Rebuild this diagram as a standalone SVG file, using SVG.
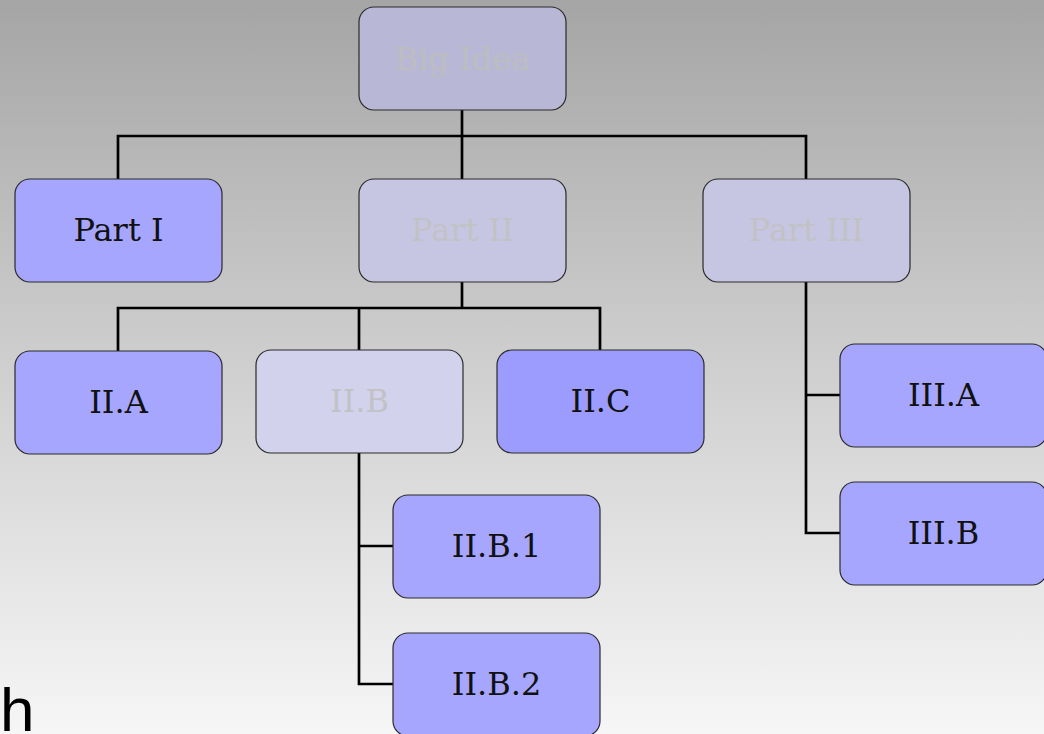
<svg xmlns="http://www.w3.org/2000/svg" width="1044" height="734" viewBox="0 0 1044 734">
  <defs>
    <linearGradient id="bg" x1="0" y1="0" x2="0" y2="1">
      <stop offset="0" stop-color="#a5a5a5"/>
      <stop offset="0.45" stop-color="#cbcbcb"/>
      <stop offset="1" stop-color="#f6f6f6"/>
    </linearGradient>
    <style>
      .box { stroke: #2a2a2a; stroke-width: 1.2; }
      .on { fill: #a6a6ff; }
      .hot { fill: #9c9cff; }
      .dim1 { fill: #b8b8d6; }
      .dim2 { fill: #c6c6e2; }
      .dim3 { fill: #d2d2ec; }
      .lbl { font-family: "DejaVu Serif", "Liberation Serif", serif; font-size: 32px; text-anchor: middle; fill: #111; }
      .faded { fill: #c2c2c6; }
      .wire { fill: none; stroke: #000; stroke-width: 2.7; stroke-linecap: square; }
    </style>
  </defs>

  <rect x="0" y="0" width="1044" height="734" fill="url(#bg)"/>

  <g id="connectors">
    <path class="wire" d="M462 110 V136 M118 179 V136 H806 V179 M462 136 V179"/>
    <path class="wire" d="M462 282 V308 M118 351 V308 H600 V350 M359 308 V350"/>
    <path class="wire" d="M359 453 V684 H393 M359 546 H393"/>
    <path class="wire" d="M806 282 V533 H840 M806 395 H840"/>
  </g>

  <g id="big-idea">
    <rect class="box dim1" x="359" y="7" width="207" height="103" rx="15"/>
    <text class="lbl" x="462.5" y="70" style="fill:#bdbdc0">Big Idea</text>
  </g>
  <g id="part-1">
    <rect class="box on" x="15" y="179" width="207" height="103" rx="15"/>
    <text class="lbl" x="118.5" y="241">Part I</text>
  </g>
  <g id="part-2">
    <rect class="box dim2" x="359" y="179" width="207" height="103" rx="15"/>
    <text class="lbl faded" x="462.5" y="241">Part II</text>
  </g>
  <g id="part-3">
    <rect class="box dim2" x="703" y="179" width="207" height="103" rx="15"/>
    <text class="lbl faded" x="806.5" y="241">Part III</text>
  </g>
  <g id="ii-a">
    <rect class="box on" x="15" y="351" width="207" height="103" rx="15"/>
    <text class="lbl" x="118.5" y="413">II.A</text>
  </g>
  <g id="ii-b">
    <rect class="box dim3" x="256" y="350" width="207" height="103" rx="15"/>
    <text class="lbl faded" x="359.5" y="412">II.B</text>
  </g>
  <g id="ii-c">
    <rect class="box hot" x="497" y="350" width="207" height="103" rx="15"/>
    <text class="lbl" x="600.5" y="412">II.C</text>
  </g>
  <g id="iii-a">
    <rect class="box on" x="840" y="344" width="207" height="103" rx="15"/>
    <text class="lbl" x="943.5" y="406">III.A</text>
  </g>
  <g id="iii-b">
    <rect class="box on" x="840" y="482" width="207" height="103" rx="15"/>
    <text class="lbl" x="943.5" y="544">III.B</text>
  </g>
  <g id="ii-b-1">
    <rect class="box on" x="393" y="495" width="207" height="103" rx="15"/>
    <text class="lbl" x="496.5" y="557">II.B.1</text>
  </g>
  <g id="ii-b-2">
    <rect class="box on" x="393" y="633" width="207" height="103" rx="15"/>
    <text class="lbl" x="496.5" y="695">II.B.2</text>
  </g>

  <text x="0" y="731" font-family="Liberation Sans, Arial, sans-serif" font-size="62" fill="#000">h</text>
</svg>
